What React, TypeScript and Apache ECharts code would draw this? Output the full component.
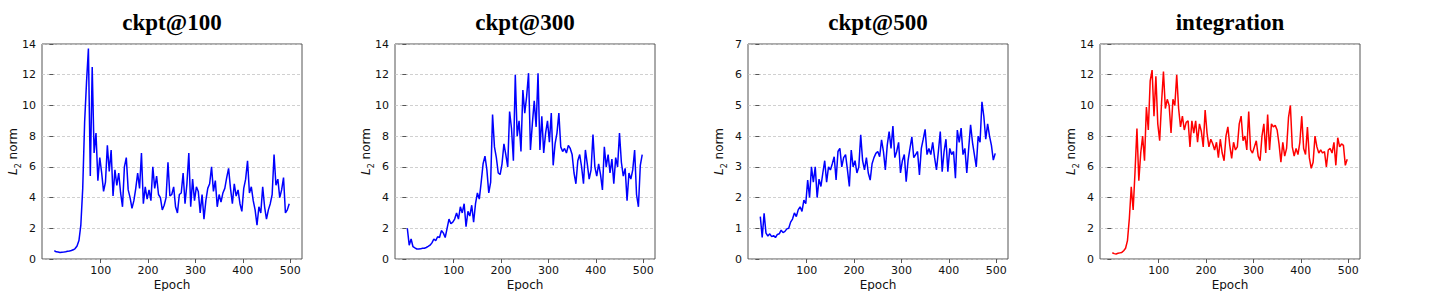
import React, { useEffect, useRef } from "react";
import * as echarts from "echarts";

const TITLES = ["ckpt@100", "ckpt@300", "ckpt@500", "integration"];
const Y_MAX = [14, 14, 7, 14];
const Y_STEP = [2, 2, 1, 2];
const X_TICKS = [100, 200, 300, 400, 500];
const LINE_COLORS = ["#0000ff", "#0000ff", "#0000ff", "#ff0000"];

const EPOCHS = [
  2, 6, 10, 14, 18, 22, 26, 30, 34, 38,
  42, 46, 50, 54, 58, 62, 66, 70, 74, 78,
  82, 86, 90, 94, 98, 102, 106, 110, 114, 118,
  122, 126, 130, 134, 138, 142, 146, 150, 154, 158,
  162, 166, 170, 174, 178, 182, 186, 190, 194, 198,
  202, 206, 210, 214, 218, 222, 226, 230, 234, 238,
  242, 246, 250, 254, 258, 262, 266, 270, 274, 278,
  282, 286, 290, 294, 298, 302, 306, 310, 314, 318,
  322, 326, 330, 334, 338, 342, 346, 350, 354, 358,
  362, 366, 370, 374, 378, 382, 386, 390, 394, 398,
  402, 406, 410, 414, 418, 422, 426, 430, 434, 438,
  442, 446, 450, 454, 458, 462, 466, 470, 474, 478,
  482, 486, 490, 494, 498,
];

const CKPT100 = [
  0.55, 0.47, 0.45, 0.42, 0.44, 0.45, 0.47, 0.5, 0.52, 0.55,
  0.6, 0.68, 0.85, 1.2, 2.2, 4.6, 8.9, 11.5, 13.7, 5.4,
  12.5, 6.9, 8.2, 5.1, 6.6, 5.6, 4.4, 5.0, 7.4, 5.7,
  7.1, 4.1, 5.8, 4.8, 5.6, 4.3, 3.4, 6.0, 6.6, 4.5,
  4.0, 3.3, 3.8, 4.6, 5.6, 4.6, 6.9, 3.6, 4.7, 3.9,
  4.5, 3.8, 6.0, 4.6, 5.4, 4.2, 4.0, 3.2, 3.5, 4.0,
  6.3, 4.1, 4.2, 4.7, 3.4, 3.0, 4.2, 4.3, 5.6, 3.6,
  4.9, 6.9, 3.4, 5.2, 3.8, 4.7, 4.4, 3.0, 4.2, 2.6,
  3.8, 4.6, 4.9, 6.0, 4.4, 5.1, 3.4, 4.2, 3.7, 4.3,
  4.6, 5.3, 5.9, 4.6, 3.6, 4.9, 4.1, 4.5, 3.6, 3.1,
  4.6, 5.2, 6.4, 4.3, 4.7, 3.8, 3.2, 2.2, 3.4, 3.0,
  4.7, 3.4, 2.6, 3.2, 3.6, 4.2, 6.8, 4.8, 5.2, 4.0,
  4.5, 5.3, 3.0, 3.2, 3.6,
];

const CKPT300 = [
  2.0, 0.9, 1.3, 0.8, 0.72, 0.65, 0.65, 0.66, 0.7, 0.7,
  0.75, 0.82, 0.9, 1.05, 1.3, 1.2, 1.45, 1.4, 1.85, 1.7,
  1.4, 2.0, 2.6, 2.3, 2.4, 2.6, 3.0, 2.6, 3.4, 3.0,
  3.6, 2.1, 3.1, 2.8, 3.5, 2.4, 3.6, 4.3, 3.9, 5.0,
  6.2, 6.7, 5.8, 4.3, 5.0, 9.4, 7.3, 6.6, 5.6, 5.5,
  6.2, 7.5, 6.8, 6.0, 9.6, 8.5, 6.4, 12.0, 8.0, 9.0,
  7.0, 11.0, 9.5, 10.6, 12.1, 7.1, 8.8, 10.3, 8.6, 12.1,
  7.1, 9.3, 6.9, 8.2, 9.0, 7.6, 9.5, 6.1, 7.5, 8.2,
  9.5, 7.3, 7.0, 7.2, 6.9, 7.4, 7.2, 6.8, 5.6, 4.9,
  6.4, 6.8, 6.0, 4.9, 7.1, 6.2, 5.2, 5.8, 8.1, 6.0,
  5.4, 6.2, 5.5, 4.5, 7.3, 6.0, 6.8, 5.6, 6.5, 4.9,
  6.6, 6.0, 8.2, 6.3, 5.4, 5.9, 3.8, 5.6, 5.2, 5.8,
  7.1, 4.2, 3.4, 6.1, 6.8,
];

const CKPT500 = [
  1.38, 0.7, 1.49, 0.84, 0.75, 0.82, 0.73, 0.76, 0.7, 0.8,
  0.82, 0.94, 0.86, 0.9, 0.98, 1.0, 1.2, 1.3, 1.5, 1.38,
  1.6, 1.7, 1.55, 1.92, 1.8, 2.57, 2.0, 3.0, 2.5, 3.0,
  2.0, 2.6, 2.36, 2.8, 3.2, 2.5, 3.0, 2.9, 3.1, 3.33,
  2.57, 3.5, 3.6, 3.0, 3.3, 3.4, 2.9, 2.36, 3.55, 3.0,
  3.2, 2.8, 3.0, 4.04, 3.2, 2.9, 3.3, 2.8, 2.57, 3.1,
  3.3, 3.44, 3.5, 3.33, 3.88, 3.5, 2.9, 3.7, 4.15, 3.6,
  4.33, 3.3, 3.5, 3.8, 2.8, 3.2, 3.4, 2.52, 3.2, 3.6,
  3.98, 3.3, 3.4, 3.5, 2.74, 3.6, 3.9, 4.22, 3.4, 3.6,
  3.4, 3.8, 3.3, 2.9, 3.5, 4.15, 2.84, 3.5, 3.9, 2.84,
  3.6, 3.4, 3.5, 2.63, 4.2, 3.8, 4.26, 3.4, 3.6, 2.8,
  3.6, 4.37, 3.8, 3.4, 3.0, 4.0, 3.8, 5.12, 4.64, 3.9,
  4.4, 4.0, 3.7, 3.22, 3.44,
];

const INTEGRATION = [
  0.41, 0.35, 0.33, 0.37, 0.4, 0.43, 0.54, 0.7, 1.2, 2.65,
  4.7, 3.2, 5.7, 8.5, 5.1, 6.9, 8.0, 6.4, 9.9, 8.4,
  11.6, 12.3, 9.3, 11.9, 8.8, 7.7, 10.2, 12.2, 9.8, 10.4,
  10.0, 8.2, 10.4, 10.0, 12.0, 9.8, 8.6, 9.3, 8.4, 8.9,
  9.0, 7.3, 9.0, 8.2, 9.0, 7.6, 8.8, 8.3, 7.3, 9.7,
  8.2, 7.3, 7.8, 7.5, 7.1, 7.6, 6.6, 7.8, 6.9, 6.4,
  8.0, 8.6, 7.4, 6.55, 7.6, 7.1, 7.3, 8.8, 9.3, 7.7,
  8.0, 7.1, 9.6, 7.1, 6.9, 7.3, 7.7, 6.7, 6.4, 8.0,
  8.8, 6.9, 9.4, 7.1, 8.8, 8.6, 8.7, 8.4, 7.5, 6.3,
  7.6, 6.7, 7.2, 9.2, 10.0, 7.3, 6.7, 7.2, 6.8, 7.6,
  9.3, 7.2, 6.8, 8.6, 6.6, 5.9, 6.3, 8.0, 7.3, 6.9,
  7.1, 6.9, 7.0, 6.0, 7.1, 7.2, 6.9, 7.6, 6.1, 7.9,
  7.3, 7.5, 7.4, 6.1, 6.5,
];

const SERIES_VALUES = [CKPT100, CKPT300, CKPT500, INTEGRATION];

const GRID_LEFT = [42, 395, 748, 1100];
const GRID_WIDTH = 260;
const GRID_TOP = 44;
const GRID_HEIGHT = 215;

const TICK_FONT = "DejaVu Sans";
const TEXT_COLOR = "#111111";
const SPINE_COLOR = "#555555";

export default function App() {
  const ref = useRef<HTMLDivElement>(null);

  useEffect(() => {
    if (!ref.current) return;
    const chart = echarts.init(ref.current, null, { renderer: "svg" });

    const grids = GRID_LEFT.map((left) => ({
      left,
      top: GRID_TOP,
      width: GRID_WIDTH,
      height: GRID_HEIGHT,
      show: true,
      borderColor: SPINE_COLOR,
      borderWidth: 1,
      backgroundColor: "transparent",
      containLabel: false,
      outerBoundsMode: "none",
    }));

    const xAxes = GRID_LEFT.map((_, i) => ({
      type: "value",
      gridIndex: i,
      min: -24,
      max: 525,
      splitLine: { show: false },
      axisLine: { show: false },
      axisTick: {
        show: true,
        customValues: X_TICKS,
        length: 4,
        lineStyle: { color: SPINE_COLOR },
      },
      axisLabel: {
        customValues: X_TICKS,
        fontSize: 11,
        color: TEXT_COLOR,
        margin: 6,
        fontFamily: TICK_FONT,
      },
      name: "Epoch",
      nameLocation: "middle",
      nameGap: 20,
      nameMoveOverlap: false,
      nameTextStyle: { fontSize: 12, color: TEXT_COLOR, fontFamily: TICK_FONT },
    }));

    const yAxes = GRID_LEFT.map((_, i) => ({
      type: "value",
      gridIndex: i,
      min: 0,
      max: Y_MAX[i],
      interval: Y_STEP[i],
      axisLine: { show: false },
      axisTick: { show: true, length: 4, lineStyle: { color: SPINE_COLOR } },
      axisLabel: {
        fontSize: 11,
        color: TEXT_COLOR,
        margin: 6,
        fontFamily: TICK_FONT,
      },
      splitLine: {
        show: true,
        lineStyle: { type: [3, 2], color: "#c4c4c4", width: 0.8 },
      },
      name: "{i|L}{s|2}{n| norm}",
      nameLocation: "middle",
      nameGap: 20,
      nameMoveOverlap: false,
      nameRotate: 90,
      nameTextStyle: {
        rich: {
          i: { fontStyle: "italic", fontSize: 12, fontFamily: TICK_FONT, color: TEXT_COLOR, lineHeight: 18 },
          s: { fontSize: 8, fontFamily: TICK_FONT, color: TEXT_COLOR, lineHeight: 18, verticalAlign: "bottom" },
          n: { fontSize: 12, fontFamily: TICK_FONT, color: TEXT_COLOR, lineHeight: 18 },
        },
      },
    }));

    const titles = TITLES.map((t, i) => ({
      text: t,
      left: GRID_LEFT[i] + GRID_WIDTH / 2,
      top: 11,
      padding: 0,
      textAlign: "center",
      textStyle: {
        fontFamily: "Liberation Serif",
        fontWeight: "bold",
        fontSize: 23,
        color: "#000",
      },
    }));

    const series = SERIES_VALUES.map((vals, i) => ({
      type: "line",
      xAxisIndex: i,
      yAxisIndex: i,
      showSymbol: false,
      symbol: "none",
      lineStyle: { color: LINE_COLORS[i], width: 1.5 },
      data: EPOCHS.map((e, k) => [e, vals[k]]),
    }));

    chart.setOption({
      animation: false,
      backgroundColor: "#ffffff",
      title: titles,
      grid: grids,
      xAxis: xAxes,
      yAxis: yAxes,
      series,
    });

    return () => chart.dispose();
  }, []);

  return (
    <div
      ref={ref}
      style={{ position: "fixed", left: 0, top: 0, width: 1446, height: 291 }}
    />
  );
}
